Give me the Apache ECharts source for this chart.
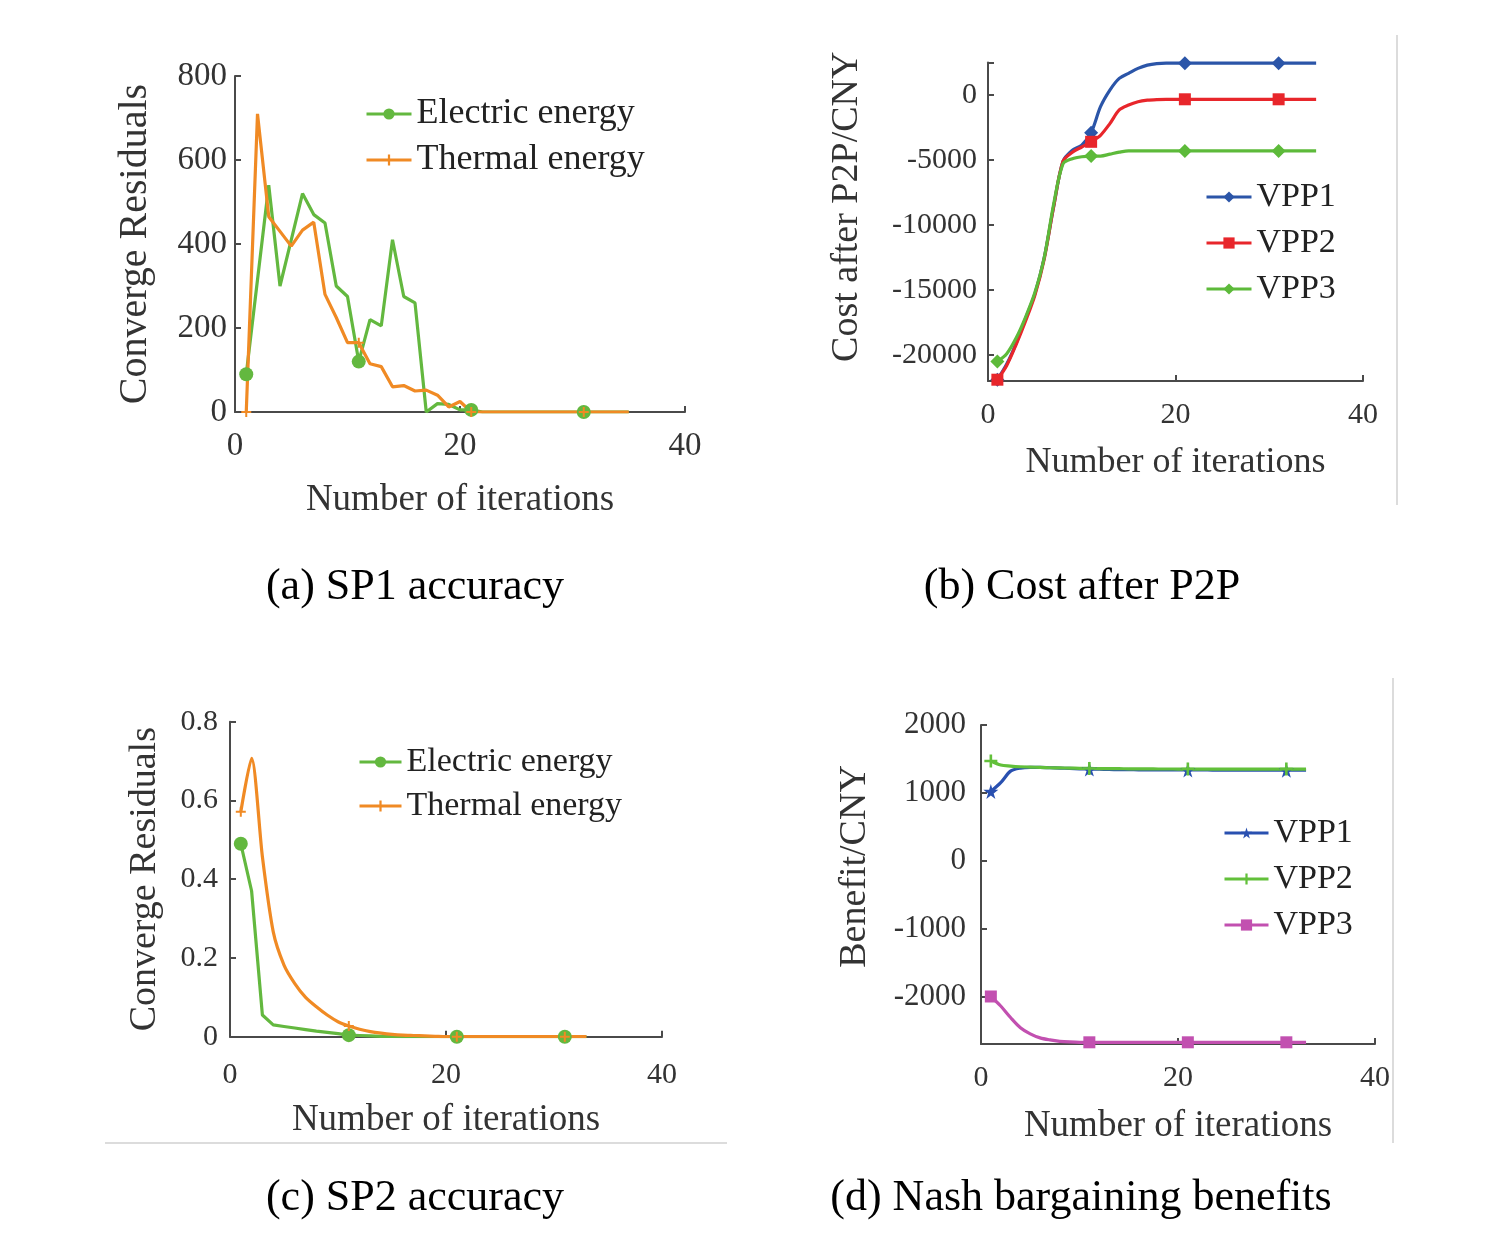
<!DOCTYPE html>
<html><head><meta charset="utf-8">
<script src="https://cdn.jsdelivr.net/npm/echarts@6/dist/echarts.min.js"></script>
<style>
html,body{margin:0;padding:0;background:#fff;}
#wrap{position:relative;width:1508px;height:1241px;background:#fff;}
.p{position:absolute;}
</style></head><body>
<div id="wrap">
<div id="ca" class="p" style="left:0;top:0;width:754px;height:620px"></div>
<div id="cb" class="p" style="left:754px;top:0;width:754px;height:620px"></div>
<div id="cc" class="p" style="left:0;top:620px;width:754px;height:621px"></div>
<div id="cd" class="p" style="left:754px;top:620px;width:754px;height:621px"></div>
</div>
<script>
// ---------- data ----------
const iters35 = [1,2,3,4,5,6,7,8,9,10,11,12,13,14,15,16,17,18,19,20,21,22,23,24,25,26,27,28,29,30,31,32,33,34,35];
const iters33 = [1,2,3,4,5,6,7,8,9,10,11,12,13,14,15,16,17,18,19,20,21,22,23,24,25,26,27,28,29,30,31,32,33];
const markerIters = [1,11,21,31];

// (a) SP1 accuracy
const a_electric = [90,315,540,300,410,520,470,450,300,275,120,220,205,410,275,260,0,20,18,5,5,0,0,0,0,0,0,0,0,0,0,0,0,0,0];
const a_thermal  = [0,710,465,430,395,433,452,280,225,165,165,115,108,60,63,50,52,40,12,25,0,0,0,0,0,0,0,0,0,0,0,0,0,0,0];

// (b) Cost after P2P
const b_vpp1 = [-21900,-20700,-19100,-17200,-15300,-12500,-8600,-5100,-4250,-3850,-2900,-900,380,1280,1670,2050,2300,2420,2450,2450,2450,2450,2450,2450,2450,2450,2450,2450,2450,2450,2450,2450,2450,2450,2450];
const b_vpp2 = [-21900,-20800,-19200,-17400,-15400,-12600,-8600,-5100,-4400,-4000,-3600,-3100,-2200,-1150,-770,-520,-400,-350,-330,-330,-330,-330,-330,-330,-330,-330,-330,-330,-330,-330,-330,-330,-330,-330,-330];
const b_vpp3 = [-20500,-19900,-18700,-17100,-15200,-12500,-8400,-5300,-4900,-4750,-4700,-4700,-4550,-4400,-4300,-4300,-4300,-4300,-4300,-4300,-4300,-4300,-4300,-4300,-4300,-4300,-4300,-4300,-4300,-4300,-4300,-4300,-4300,-4300,-4300];

// (c) SP2 accuracy
const c_electric = [0.49,0.37,0.055,0.03,0.026,0.022,0.018,0.014,0.011,0.008,0.004,0.003,0.002,0.001,0.001,0,0,0,0,0,0,0,0,0,0,0,0,0,0,0,0,0,0];
const c_thermal  = [0.571,0.707,0.457,0.267,0.182,0.135,0.10,0.076,0.055,0.038,0.027,0.019,0.013,0.009,0.006,0.004,0.003,0.002,0.001,0,0,0,0,0,0,0,0,0,0,0,0,0,0];

// (d) Nash bargaining benefits
const d_vpp1 = [1020,1150,1320,1365,1375,1375,1370,1365,1360,1355,1350,1348,1345,1343,1341,1340,1340,1339,1338,1338,1337,1337,1337,1336,1336,1336,1335,1335,1335,1335,1335,1335,1335];
const d_vpp2 = [1470,1410,1395,1385,1380,1375,1370,1368,1365,1362,1360,1358,1357,1356,1355,1354,1353,1352,1352,1351,1351,1350,1350,1350,1350,1350,1350,1350,1350,1350,1350,1350,1350];
const d_vpp3 = [-2000,-2140,-2310,-2460,-2550,-2610,-2640,-2660,-2670,-2675,-2675,-2675,-2675,-2675,-2675,-2675,-2675,-2675,-2675,-2675,-2675,-2675,-2675,-2675,-2675,-2675,-2675,-2675,-2675,-2675,-2675,-2675,-2675];

const xTicks = [0,20,40];
const aYTicks = [0,200,400,600,800];
const bYTicks = [-20000,-15000,-10000,-5000,0];
const cYTicks = [0,0.2,0.4,0.6,0.8];
const dYTicks = [-2000,-1000,0,1000,2000];

// ---------- styling ----------
const F = "'Liberation Serif','Times New Roman',serif";
const AX = '#4a4a4a';
const TX = '#333333';
const PLUS = 'path://M4,0H6V4H10V6H6V10H4V6H0V4H4Z';
const STAR = 'path://M50,0L61,35L98,35L68,57L79,91L50,70L21,91L32,57L2,35L39,35Z';

function series(name, xs, ys, color, symbol, symSize, smooth) {
  return {
    type: 'line', name: name, symbol: symbol, symbolSize: symSize, showAllSymbol: true,
    smooth: smooth, lineStyle: { color: color, width: 3.2 }, itemStyle: { color: color },
    data: xs.map(function (x, i) {
      return markerIters.indexOf(x) >= 0 ? { value: [x, ys[i]] } : { value: [x, ys[i]], symbol: 'none' };
    })
  };
}
function xAxis(labSize, labMargin, nameSize, nameGap) {
  return {
    type: 'value', min: 0, max: 40, interval: 20,
    axisLine: { show: true, onZero: false, lineStyle: { color: AX, width: 2 } },
    axisTick: { show: true, inside: true, length: 6, lineStyle: { color: AX, width: 2 } },
    axisLabel: { color: TX, fontFamily: F, fontSize: labSize, margin: labMargin,
      formatter: function (v) { return xTicks.indexOf(v) >= 0 ? String(v) : ''; } },
    splitLine: { show: false },
    name: 'Number of iterations', nameLocation: 'middle', nameGap: nameGap,
    nameTextStyle: { color: TX, fontFamily: F, fontSize: nameSize }
  };
}
function yAxis(opts) {
  return Object.assign({
    type: 'value',
    axisLine: { show: true, onZero: false, lineStyle: { color: AX, width: 2 } },
    axisTick: { show: true, inside: true, length: 6, lineStyle: { color: AX, width: 2 } },
    splitLine: { show: false },
    nameLocation: 'middle', nameRotate: 90
  }, opts);
}
function legend(left, top, size, gap, w) {
  return { orient: 'vertical', left: left, top: top, padding: 0, itemWidth: w, itemHeight: 14, itemGap: gap,
    lineStyle: { width: 3 },
    textStyle: { color: '#222', fontFamily: F, fontSize: size }, selectedMode: false };
}
function caption(x, y, text) {
  return { type: 'text', style: { x: x, y: y, text: text, fill: '#000', font: '44px ' + F,
    textAlign: 'center', textVerticalAlign: 'middle' } };
}
function vline(x, y1, y2) { return { type: 'line', shape: { x1: x, y1: y1, x2: x, y2: y2 }, style: { stroke: '#d0d0d0', lineWidth: 1.5 } }; }
function hline(y, x1, x2) { return { type: 'line', shape: { x1: x1, y1: y, x2: x2, y2: y }, style: { stroke: '#d0d0d0', lineWidth: 1.5 } }; }

// ---------- (a) ----------
const chA = echarts.init(document.getElementById('ca'));
chA.setOption({
  animation: false,
  grid: { left: 235, top: 76, width: 450, height: 336 },
  xAxis: xAxis(33, 18, 37, 70),
  yAxis: yAxis({ min: 0, max: 800, interval: 200,
    axisLabel: { color: TX, fontFamily: F, fontSize: 33, margin: 8,
      formatter: function (v) { return aYTicks.indexOf(v) >= 0 ? String(v) : ''; } },
    name: 'Converge Residuals', nameGap: 80, nameTextStyle: { color: TX, fontFamily: F, fontSize: 40 } }),
  legend: legend(365, 96, 36, 10, 45),
  series: [
    series('Electric energy', iters35, a_electric, '#63b83f', 'circle', 14, false),
    series('Thermal energy', iters35, a_thermal, '#f08a24', PLUS, 10, false)
  ],
  graphic: [caption(415, 587, '(a) SP1 accuracy')]
});

// ---------- (b) ----------
const chB = echarts.init(document.getElementById('cb'));
chB.setOption({
  animation: false,
  grid: { left: 234, top: 62.5, width: 375, height: 318.5 },
  xAxis: xAxis(30, 19, 36, 64),
  yAxis: yAxis({ min: -22000, max: 2500,
    axisLabel: { color: TX, fontFamily: F, fontSize: 30, margin: 11, showMinLabel: true, showMaxLabel: true,
      formatter: function (v) { return bYTicks.indexOf(v) >= 0 ? String(v) : ''; } },
    name: 'Cost after P2P/CNY', nameGap: 122,
    nameTextStyle: { color: TX, fontFamily: F, fontSize: 38, padding: [0, 0, 0, 30] } }),
  legend: legend(451, 180, 34, 12, 45),
  series: [
    series('VPP1', iters35, b_vpp1, '#2b55a8', 'diamond', 14, 0.3),
    series('VPP2', iters35, b_vpp2, '#e8262b', 'rect', 12, 0.3),
    series('VPP3', iters35, b_vpp3, '#5dba3a', 'diamond', 14, 0.3)
  ],
  graphic: [caption(328, 587, '(b) Cost after P2P'), vline(643, 35, 505)]
});

// ---------- (c) ----------
const chC = echarts.init(document.getElementById('cc'));
chC.setOption({
  animation: false,
  grid: { left: 230, top: 101.7, width: 432, height: 315 },
  xAxis: xAxis(30, 23, 37, 65),
  yAxis: yAxis({ min: 0, max: 0.8, interval: 0.2,
    axisLabel: { color: TX, fontFamily: F, fontSize: 30, margin: 12,
      formatter: function (v) { const r = Math.round(v * 10) / 10; return cYTicks.indexOf(r) >= 0 ? String(r) : ''; } },
    name: 'Converge Residuals', nameGap: 66, nameTextStyle: { color: TX, fontFamily: F, fontSize: 38 } }),
  legend: legend(358, 125, 34, 10, 42),
  series: [
    series('Electric energy', iters33, c_electric, '#63b83f', 'circle', 14, false),
    series('Thermal energy', iters33, c_thermal, '#f08a24', PLUS, 10, 0.25)
  ],
  graphic: [caption(415, 578, '(c) SP2 accuracy'), hline(523, 105, 727)]
});

// ---------- (d) ----------
const chD = echarts.init(document.getElementById('cd'));
chD.setOption({
  animation: false,
  grid: { left: 227, top: 105, width: 394, height: 319 },
  xAxis: xAxis(30, 19, 37, 64),
  yAxis: yAxis({ min: -2700, max: 2000,
    axisLabel: { color: TX, fontFamily: F, fontSize: 31, margin: 15,
      formatter: function (v) { return dYTicks.indexOf(v) >= 0 ? String(v) : ''; } },
    name: 'Benefit/CNY', nameGap: 107,
    nameTextStyle: { color: TX, fontFamily: F, fontSize: 38, padding: [0, 0, 0, 36] } }),
  legend: legend(469, 196, 34, 12, 44),
  series: [
    series('VPP1', iters33, d_vpp1, '#2950b0', STAR, 15, 0.3),
    series('VPP2', iters33, d_vpp2, '#62c03a', PLUS, 13, 0.3),
    series('VPP3', iters33, d_vpp3, '#c250b0', 'rect', 12, 0.3)
  ],
  graphic: [caption(327, 578, '(d) Nash bargaining benefits'), vline(639, 58, 523)]
});
</script>
</body></html>
